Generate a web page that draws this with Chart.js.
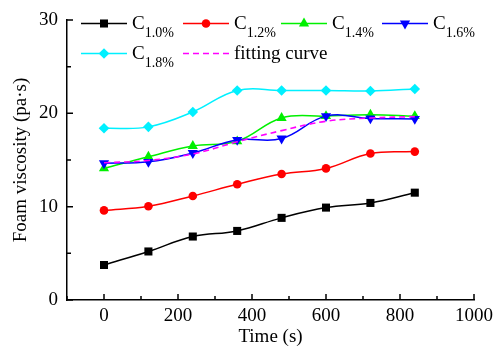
<!DOCTYPE html>
<html>
<head>
<meta charset="utf-8">
<script src="https://cdn.jsdelivr.net/npm/chart.js@4/dist/chart.umd.min.js"></script>
<style>
  html, body { margin: 0; padding: 0; background: #fff; }
  #wrap { width: 495px; height: 347px; position: relative; }
</style>
</head>
<body>
<div id="wrap"><canvas id="c" width="495" height="347"></canvas></div>
<script>
// ---- data ----
const times = [0, 120, 240, 360, 480, 600, 720, 840];
const c10 = [3.75, 5.2, 6.8, 7.4, 8.8, 9.9, 10.4, 11.5];
const c12 = [9.6, 10.05, 11.15, 12.4, 13.5, 14.1, 15.7, 15.9];
const c14 = [14.1, 15.35, 16.5, 17.0, 19.5, 19.7, 19.85, 19.7];
const c16 = [14.65, 14.8, 15.75, 17.15, 17.3, 19.7, 19.45, 19.4];
const c18 = [18.4, 18.55, 20.15, 22.45, 22.45, 22.45, 22.4, 22.6];
const fitting = [14.7, 14.95, 15.65, 16.95, 18.15, 19.15, 19.5, 19.65];
const xTicks = [0, 200, 400, 600, 800, 1000];
const xMinorTicks = [-100, 100, 300, 500, 700, 900];
const yTicks = [0, 10, 20, 30];
const yMinorTicks = [5, 15, 25];
const legendSubs = ['1.0%', '1.2%', '1.4%', '1.6%', '1.8%'];
const fitLabel = 'fitting curve';
const xTitle = 'Time (s)';
const yTitle = 'Foam viscosity (pa\u00B7s)';

const FONT = "'Liberation Serif', 'Times New Roman', serif";
const series = [c10, c12, c14, c16, c18];
const colors = ['#000000', '#ff0000', '#00f000', '#0000ff', '#00f0ff'];
const shapes = ['rect', 'circle', 'triangle', 'triangle', 'rectRot'];
const radii = [5.7, 4.3, 5.9, 5.9, 5.3];
const rots = [0, 0, 0, 180, 0];

const datasets = series.map((vals, i) => ({
  label: 'C' + legendSubs[i],
  data: times.map((t, k) => ({ x: t, y: vals[k] })),
  borderColor: colors[i],
  backgroundColor: colors[i],
  borderWidth: 1.5,
  pointStyle: shapes[i],
  pointRadius: radii[i],
  pointRotation: rots[i],
  pointBorderWidth: 0,
  tension: 0.4,
  order: 10 - i
}));
datasets.push({
  label: fitLabel,
  data: times.map((t, k) => ({ x: t, y: fitting[k] })),
  borderColor: '#ff00ff',
  backgroundColor: '#ff00ff',
  borderWidth: 1.6,
  borderDash: [6, 4],
  pointRadius: 0,
  tension: 0.4,
  order: 1
});

function drawMarker(ctx, shape, x, y, r, rot) {
  ctx.beginPath();
  if (shape === 'rect') {
    const s = Math.SQRT1_2 * r;
    ctx.rect(x - s, y - s, 2 * s, 2 * s);
  } else if (shape === 'circle') {
    ctx.arc(x, y, r, 0, Math.PI * 2);
  } else if (shape === 'triangle') {
    let rad = rot * Math.PI / 180;
    for (let k = 0; k < 3; k++) {
      const px = x + Math.sin(rad) * r, py = y - Math.cos(rad) * r;
      if (k === 0) ctx.moveTo(px, py); else ctx.lineTo(px, py);
      rad += 2 * Math.PI / 3;
    }
    ctx.closePath();
  } else if (shape === 'rectRot') {
    ctx.moveTo(x - r, y); ctx.lineTo(x, y - r); ctx.lineTo(x + r, y); ctx.lineTo(x, y + r);
    ctx.closePath();
  }
  ctx.fill();
}

const decor = {
  id: 'decor',
  afterDraw(chart) {
    const ctx = chart.ctx;
    const xs = chart.scales.x, ys = chart.scales.y;
    const a = chart.chartArea;
    ctx.save();
    ctx.strokeStyle = '#000';
    ctx.lineWidth = 1.5;
    ctx.beginPath();
    xTicks.forEach(v => { const p = xs.getPixelForValue(v); ctx.moveTo(p, a.bottom); ctx.lineTo(p, a.bottom - 6); });
    xMinorTicks.forEach(v => { const p = xs.getPixelForValue(v); ctx.moveTo(p, a.bottom); ctx.lineTo(p, a.bottom - 4); });
    yTicks.forEach(v => { const p = ys.getPixelForValue(v); ctx.moveTo(a.left, p); ctx.lineTo(a.left + 6, p); });
    yMinorTicks.forEach(v => { const p = ys.getPixelForValue(v); ctx.moveTo(a.left, p); ctx.lineTo(a.left + 4, p); });
    ctx.stroke();

    // legend
    const colX = [14, 116, 214, 315];
    const rowY = [3.5, 33.5];
    const items = legendSubs.map((s, i) => ({ i, sub: s }));
    items.push({ i: 5, fit: true });
    items.forEach((it, n) => {
      const col = n % 4, row = Math.floor(n / 4);
      const x0 = a.left + colX[col], y0 = a.top + rowY[row];
      const ds = datasets[it.i];
      ctx.strokeStyle = ds.borderColor;
      ctx.lineWidth = ds.borderWidth;
      ctx.setLineDash(ds.borderDash || []);
      ctx.beginPath(); ctx.moveTo(x0, y0); ctx.lineTo(x0 + 46, y0); ctx.stroke();
      ctx.setLineDash([]);
      if (!it.fit) {
        ctx.fillStyle = ds.backgroundColor;
        drawMarker(ctx, shapes[it.i], x0 + 23, y0, radii[it.i], rots[it.i]);
      }
      ctx.fillStyle = '#000';
      ctx.textBaseline = 'alphabetic';
      ctx.textAlign = 'left';
      if (it.fit) {
        ctx.font = '19px ' + FONT;
        ctx.fillText(fitLabel, x0 + 51, y0 + 5.5);
      } else {
        ctx.font = '19px ' + FONT;
        ctx.fillText('C', x0 + 51, y0 + 5.5);
        const w = ctx.measureText('C').width;
        ctx.font = '14px ' + FONT;
        ctx.fillText(it.sub, x0 + 51 + w, y0 + 13);
      }
    });
    ctx.restore();
  }
};

new Chart(document.getElementById('c'), {
  type: 'line',
  data: { datasets },
  options: {
    responsive: false,
    animation: false,
    events: [],
    layout: { padding: { top: 20, right: 21, bottom: 0, left: 0 } },
    plugins: { legend: { display: false }, tooltip: { enabled: false } },
    scales: {
      x: {
        type: 'linear', min: -100, max: 1000,
        afterBuildTicks: s => { s.ticks = xTicks.map(v => ({ value: v })); },
        afterFit: s => { s.height = 47; s.paddingLeft = 0; s.paddingRight = 0; },
        grid: { display: false, drawTicks: false },
        border: { display: true, color: '#000', width: 1.5 },
        ticks: { color: '#000', padding: 5, maxRotation: 0, font: { family: FONT, size: 19 }, callback: v => String(v) },
        title: { display: true, text: xTitle, color: '#000', font: { family: FONT, size: 19, lineHeight: 1 }, padding: { top: 0, bottom: 0 } }
      },
      y: {
        type: 'linear', min: 0, max: 30,
        afterBuildTicks: s => { s.ticks = yTicks.map(v => ({ value: v })); },
        afterFit: s => { s.width = 67; s.paddingTop = 0; s.paddingBottom = 0; },
        grid: { display: false, drawTicks: false },
        border: { display: true, color: '#000', width: 1.5 },
        ticks: { color: '#000', padding: 9, font: { family: FONT, size: 19 }, callback: v => String(v) },
        title: { display: true, text: yTitle, color: '#000', font: { family: FONT, size: 19, lineHeight: 1 }, padding: { top: 12, bottom: 0 } }
      }
    }
  },
  plugins: [decor]
});
</script>
</body>
</html>
